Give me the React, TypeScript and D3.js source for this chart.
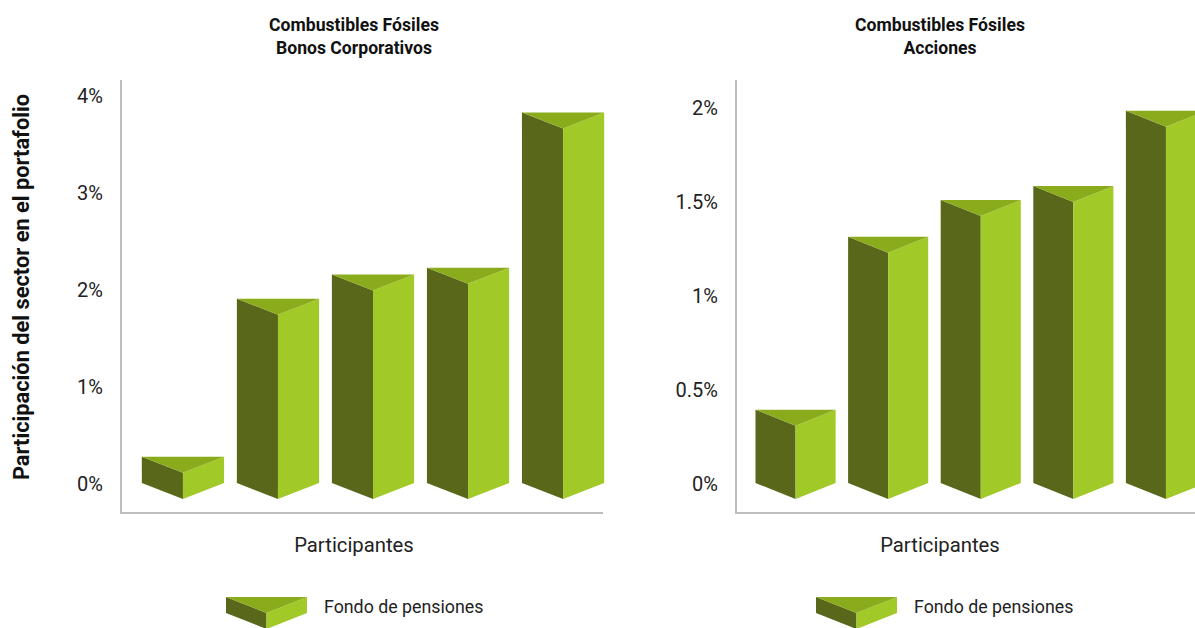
import React from "react";
import * as d3 from "d3";

const participants = ["P1", "P2", "P3", "P4", "P5"];
const bondValues = [0.27, 1.9, 2.15, 2.22, 3.82];
const equityValues = [0.39, 1.31, 1.505, 1.58, 1.98];
const bondTicks = [0, 1, 2, 3, 4];
const equityTicks = [0, 0.5, 1, 1.5, 2];
const seriesName = "Fondo de pensiones";

const DARK = "#58671a";
const LIGHT = "#a1c927";
const TOP = "#8aab1b";
const AXIS = "#bdbdbd";
const FONT = "Roboto, 'Noto Sans', sans-serif";
const DEPTH = 16;

function Prism({ x, w, yTop, yBase }: { x: number; w: number; yTop: number; yBase: number }) {
  const cx = x + w / 2;
  const left = `${x},${yTop} ${cx},${yTop + DEPTH} ${cx},${yBase + DEPTH} ${x},${yBase}`;
  const right = `${cx},${yTop + DEPTH} ${x + w},${yTop} ${x + w},${yBase} ${cx},${yBase + DEPTH}`;
  const top = `${x},${yTop} ${x + w},${yTop} ${cx},${yTop + DEPTH}`;
  return (
    <g>
      <polygon points={left} fill={DARK} />
      <polygon points={right} fill={LIGHT} />
      <polygon points={top} fill={TOP} />
    </g>
  );
}

function Panel({
  values, ticks, maxV, pxPerMax, xRange, axisX, axisEnd, title2, tickX, centerX, legendX,
}: {
  values: number[]; ticks: number[]; maxV: number; pxPerMax: number; xRange: [number, number];
  axisX: number; axisEnd: number; title2: string; tickX: number; centerX: number; legendX: number;
}) {
  const y = d3.scaleLinear().domain([0, maxV]).range([483, 483 - pxPerMax]);
  const x = d3.scaleBand<string>().domain(participants).range(xRange).paddingInner(0.135).paddingOuter(0.135);
  return (
    <g>
      <text x={centerX} y={31} textAnchor="middle" fontFamily={FONT} fontWeight="bold" fontSize={17.6} fill="#111">Combustibles Fósiles</text>
      <text x={centerX} y={54} textAnchor="middle" fontFamily={FONT} fontWeight="bold" fontSize={17.6} fill="#111">{title2}</text>
      <line x1={axisX} x2={axisX} y1={80} y2={514} stroke={AXIS} strokeWidth={2} />
      <line x1={axisX - 1} x2={axisEnd} y1={513} y2={513} stroke={AXIS} strokeWidth={2} />
      {ticks.map((t) => (
        <text key={t} x={tickX} y={y(t) + 8} textAnchor="end" fontFamily={FONT} fontSize={20} fill="#222">{`${t}%`}</text>
      ))}
      {values.map((v, i) => (
        <Prism key={i} x={x(participants[i])!} w={x.bandwidth()} yTop={y(v)} yBase={y(0)} />
      ))}
      <text x={centerX} y={552} textAnchor="middle" fontFamily={FONT} fontSize={20.3} fill="#222">Participantes</text>
      <g>
        <Prism x={legendX} w={81} yTop={597} yBase={613} />
        <text x={legendX + 98} y={613} fontFamily={FONT} fontSize={17.8} fill="#222">{seriesName}</text>
      </g>
    </g>
  );
}

export default function App() {
  return (
    <svg width={1195} height={628} style={{ position: "absolute", left: 0, top: 0, background: "#fff" }}>
      <text transform="translate(29,287) rotate(-90)" textAnchor="middle" fontFamily={FONT} fontWeight="bold" fontSize={21.8} fill="#111">
        Participación del sector en el portafolio
      </text>
      <Panel values={bondValues} ticks={bondTicks} maxV={4} pxPerMax={388} xRange={[129, 617]} axisX={121} axisEnd={603}
        title2="Bonos Corporativos" tickX={103} centerX={354} legendX={226} />
      <Panel values={equityValues} ticks={equityTicks} maxV={2} pxPerMax={376} xRange={[743, 1218.5]} axisX={736} axisEnd={1195}
        title2="Acciones" tickX={718} centerX={940} legendX={816} />
    </svg>
  );
}
